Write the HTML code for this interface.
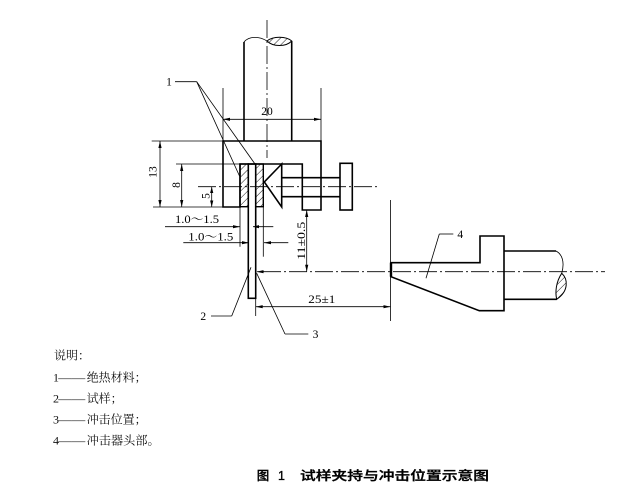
<!DOCTYPE html>
<html><head><meta charset="utf-8"><style>
html,body{margin:0;padding:0;background:#fff;}
svg{display:block}
.k{stroke:#000;stroke-width:1.6;fill:none;stroke-linejoin:miter}
.t{stroke:#000;stroke-width:0.8;fill:none}
.c{stroke:#000;stroke-width:0.8;fill:none;stroke-dasharray:18 3 2 3}
.a{fill:#000;stroke:none}
.n{font-family:"Liberation Serif","Noto Serif CJK SC",serif;font-size:11.5px;fill:#000}
.l{font-family:"Liberation Serif","Noto Serif CJK SC",serif;font-size:12px;fill:#111}
.cap{font-family:"Liberation Sans","Noto Sans CJK SC",sans-serif;font-size:12.5px;font-weight:500;fill:#000;stroke:#000;stroke-width:0.35}
</style></head><body>
<svg width="632" height="493" viewBox="0 0 632 493" xmlns="http://www.w3.org/2000/svg">
<defs>
<pattern id="h" patternUnits="userSpaceOnUse" width="5" height="5" patternTransform="rotate(45)">
<line x1="0" y1="0" x2="0" y2="5" stroke="#000" stroke-width="0.9"/>
</pattern>
</defs>
<rect width="632" height="493" fill="#fff"/>

<!-- centerlines -->
<line class="c" x1="267" y1="20" x2="267" y2="158"/>
<line class="c" x1="198" y1="186.7" x2="377" y2="186.7"/>
<line class="c" x1="263" y1="271.7" x2="605" y2="271.7"/>

<!-- shaft -->
<line class="k" x1="244" y1="42" x2="244" y2="141"/>
<line class="k" x1="291.7" y1="41" x2="291.7" y2="141"/>
<path class="t" d="M244,42 C249,36 259,36 267,41" stroke-width="1"/>
<path d="M267,41 C273,36 286,36 291.7,41 C286,47 273,47 267,41 Z" fill="url(#h)" stroke="#000" stroke-width="1"/>

<!-- clamp body -->
<path class="k" d="M223,141 H321 V210 H302.3 V164 H240 V207 H223 Z"/>
<!-- insulation strips -->
<rect x="240" y="164" width="8.3" height="42.7" fill="url(#h)" stroke="#000" stroke-width="1.4"/>
<rect x="255.7" y="164" width="7.6" height="42.7" fill="url(#h)" stroke="#000" stroke-width="1.4"/>
<!-- specimen -->
<rect class="k" x="248.3" y="164" width="7.4" height="134.3"/>
<!-- jaw -->
<path class="k" d="M281.7,164 L264.3,182 L281.7,207 Z"/>
<!-- screw -->
<line class="k" x1="281.7" y1="177.7" x2="340" y2="177.7"/>
<line class="k" x1="281.7" y1="196.7" x2="340" y2="196.7"/>
<rect class="k" x="340" y="163.3" width="12.3" height="46.7"/>

<!-- impactor -->
<path class="k" d="M391,262.7 H480 V236 H504 V310.7 H479.3 L391,276.7 Z"/>
<line x1="391" y1="262.7" x2="391" y2="276.7" stroke="#000" stroke-width="2.4"/>
<line class="k" x1="504" y1="251" x2="556" y2="251"/>
<line class="k" x1="504" y1="299.3" x2="556.7" y2="299.3"/>
<path class="t" d="M556,251 C562,254 565,262 561.7,273.3" stroke-width="1"/>
<path d="M561.7,273.3 C568,279 569,291 556.7,299.3 C555,292 556,282 561.7,273.3 Z" fill="url(#h)" stroke="#000" stroke-width="1"/>

<!-- dimension 20 -->
<line class="t" x1="223" y1="88" x2="223" y2="141"/>
<line class="t" x1="321" y1="88" x2="321" y2="141"/>
<line class="t" x1="223" y1="119.3" x2="321" y2="119.3"/>
<polygon class="a" points="223,119.3 230,117.7 230,120.9"/>
<polygon class="a" points="321,119.3 314,117.7 314,120.9"/>
<text class="n" x="267" y="115" text-anchor="middle">20</text>

<!-- dimension 13 / 8 / 5 -->
<line class="t" x1="151.7" y1="141" x2="223" y2="141"/>
<line class="t" x1="153" y1="207" x2="223" y2="207"/>
<line class="t" x1="160" y1="141" x2="160" y2="207"/>
<polygon class="a" points="160,141 158.4,148 161.6,148"/>
<polygon class="a" points="160,207 158.4,200 161.6,200"/>
<text class="n" transform="translate(152.7,172) rotate(-90)" text-anchor="middle" dy="0.35em">13</text>

<line class="t" x1="176" y1="164" x2="240" y2="164"/>
<line class="t" x1="181.7" y1="164" x2="181.7" y2="207"/>
<polygon class="a" points="181.7,164 180.1,171 183.3,171"/>
<polygon class="a" points="181.7,207 180.1,200 183.3,200"/>
<text class="n" transform="translate(176,185) rotate(-90)" text-anchor="middle" dy="0.35em">8</text>

<line class="t" x1="211.7" y1="186.7" x2="211.7" y2="207"/>
<polygon class="a" points="211.7,186.7 210.1,193 213.3,193"/>
<polygon class="a" points="211.7,207 210.1,200.5 213.3,200.5"/>
<text class="n" transform="translate(205.5,196) rotate(-90)" text-anchor="middle" dy="0.35em">5</text>

<!-- 1.0~1.5 dims -->
<line class="t" x1="240" y1="207" x2="240" y2="246.7"/>
<line class="t" x1="263.3" y1="207" x2="263.3" y2="256.7"/>
<line class="t" x1="165" y1="226.7" x2="240" y2="226.7"/>
<polygon class="a" points="240,226.7 233,225.1 233,228.3"/>
<line class="t" x1="253" y1="226.7" x2="273.3" y2="226.7"/>
<polygon class="a" points="253,226.7 259,225.1 259,228.3"/>
<text class="n" x="175" y="223" textLength="44" lengthAdjust="spacingAndGlyphs">1.0～1.5</text>

<line class="t" x1="183.3" y1="242.7" x2="249" y2="242.7"/>
<polygon class="a" points="249,242.7 242,241.1 242,244.3"/>
<line class="t" x1="264" y1="242.7" x2="288.3" y2="242.7"/>
<polygon class="a" points="264,242.7 271,241.1 271,244.3"/>
<text class="n" x="188.3" y="240.5" textLength="45" lengthAdjust="spacingAndGlyphs">1.0～1.5</text>

<!-- 11±0.5 -->
<line class="t" x1="306.7" y1="210" x2="306.7" y2="271.7"/>
<polygon class="a" points="306.7,210 305.1,217 308.3,217"/>
<polygon class="a" points="306.7,271.7 305.1,264.7 308.3,264.7"/>
<text class="n" transform="translate(300.8,240.8) rotate(-90)" text-anchor="middle" dy="0.35em" textLength="38" lengthAdjust="spacingAndGlyphs">11±0.5</text>

<!-- impact line arrow -->
<line class="t" x1="257" y1="271.7" x2="264" y2="271.7"/>
<polygon class="a" points="256.5,271.7 263.5,270.1 263.5,273.3"/>

<!-- 25±1 -->
<line class="t" x1="255.7" y1="298" x2="255.7" y2="316"/>
<line class="t" x1="390.5" y1="200" x2="390.5" y2="321"/>
<line class="t" x1="255.7" y1="306.7" x2="390.5" y2="306.7"/>
<polygon class="a" points="255.7,306.7 262.7,305.1 262.7,308.3"/>
<polygon class="a" points="390.5,306.7 383.5,305.1 383.5,308.3"/>
<text class="n" x="308.3" y="303" textLength="27" lengthAdjust="spacingAndGlyphs">25±1</text>

<!-- leaders -->
<line class="t" x1="175" y1="81.7" x2="196.7" y2="81.7"/>
<line class="t" x1="196.7" y1="81.7" x2="239.5" y2="176"/>
<line class="t" x1="196.7" y1="81.7" x2="255" y2="164"/>
<text class="n" x="169" y="85.5" text-anchor="middle">1</text>

<line class="t" x1="211" y1="316" x2="231.7" y2="316"/>
<line class="t" x1="231.7" y1="316" x2="251" y2="267.3"/>
<text class="n" x="203.3" y="319.8" text-anchor="middle">2</text>

<line class="t" x1="285" y1="334" x2="308.3" y2="334"/>
<line class="t" x1="285" y1="334" x2="256.7" y2="273.3"/>
<text class="n" x="315.5" y="338" text-anchor="middle">3</text>

<line class="t" x1="439.3" y1="234" x2="453.3" y2="234"/>
<line class="t" x1="439.3" y1="234" x2="426" y2="278.3"/>
<text class="n" x="460.3" y="238" text-anchor="middle">4</text>

<!-- legend -->
<text class="l" x="54" y="359.5" textLength="36" lengthAdjust="spacingAndGlyphs">说明：</text>

<text class="l" x="53" y="381.5">1</text>
<text class="l" x="58.3" y="381.5" textLength="27" lengthAdjust="spacingAndGlyphs">——</text>
<text class="l" x="86.7" y="381.5" textLength="60" lengthAdjust="spacingAndGlyphs">绝热材料；</text>

<text class="l" x="53" y="402.5">2</text>
<text class="l" x="58.3" y="402.5" textLength="27" lengthAdjust="spacingAndGlyphs">——</text>
<text class="l" x="86.7" y="402.5" textLength="36" lengthAdjust="spacingAndGlyphs">试样；</text>

<text class="l" x="53" y="423.5">3</text>
<text class="l" x="58.3" y="423.5" textLength="27" lengthAdjust="spacingAndGlyphs">——</text>
<text class="l" x="86.7" y="423.5" textLength="60" lengthAdjust="spacingAndGlyphs">冲击位置；</text>

<text class="l" x="53" y="444.5">4</text>
<text class="l" x="58.3" y="444.5" textLength="27" lengthAdjust="spacingAndGlyphs">——</text>
<text class="l" x="86.7" y="444.5" textLength="73" lengthAdjust="spacingAndGlyphs">冲击器头部。</text>

<!-- caption -->
<text class="cap" x="256.7" y="480">图</text>
<text class="cap" x="278" y="480">1</text>
<text class="cap" x="300" y="480" textLength="189" lengthAdjust="spacingAndGlyphs">试样夹持与冲击位置示意图</text>
</svg>
</body></html>
